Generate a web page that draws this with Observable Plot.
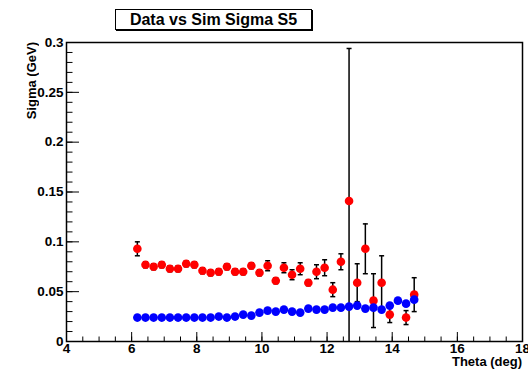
<!DOCTYPE html>
<html>
<head>
<meta charset="utf-8">
<script src="https://cdn.jsdelivr.net/npm/d3@7"></script>
<script src="https://cdn.jsdelivr.net/npm/@observablehq/plot@0.6"></script>
<style>
  html, body { margin: 0; padding: 0; background: #fff; }
  #wrap { position: relative; width: 528px; height: 370px; font-family: "Liberation Sans", Arial, Helvetica, sans-serif; font-weight: bold; color: #000; }
  #wrap svg { position: absolute; left: 0; top: 0; }
  #wrap svg text { font-family: "Liberation Sans", Arial, Helvetica, sans-serif !important; font-weight: 700 !important; font-size: 13.5px; }
  #title { position: absolute; left: 115px; top: 9px; width: 195px; height: 19px; border: 1px solid #000;
           box-shadow: 1px 1px 0 #000; background: #fff; font-size: 16px; line-height: 19px;
           text-align: center; z-index: 2; }
  #xlabel { position: absolute; right: 6px; top: 354px; font-size: 13px; line-height: 15px; white-space: nowrap; z-index: 2; }
  #ylabel { position: absolute; left: 24px; top: 42px; font-size: 13px; line-height: 15px; white-space: nowrap;
            writing-mode: vertical-rl; transform: rotate(180deg); z-index: 2; }
</style>
</head>
<body>
<div id="wrap">
  <div id="title">Data vs Sim Sigma S5</div>
  <div id="xlabel">Theta (deg)</div>
  <div id="ylabel">Sigma (GeV)</div>
</div>
<script>
// Theta bin centres (deg)
const theta = [6.175, 6.425, 6.675, 6.925, 7.175, 7.425, 7.675, 7.925, 8.175, 8.425, 8.675, 8.925,
  9.175, 9.425, 9.675, 9.925, 10.175, 10.425, 10.675, 10.925, 11.175, 11.425, 11.675, 11.925,
  12.175, 12.425, 12.675, 12.925, 13.175, 13.425, 13.675, 13.925, 14.175, 14.425, 14.675];
// Data sigma (GeV) and errors
const dataSigma = [0.093, 0.077, 0.075, 0.077, 0.073, 0.073, 0.078, 0.077, 0.071, 0.069, 0.070, 0.075,
  0.070, 0.070, 0.076, 0.069, 0.076, 0.061, 0.074, 0.067, 0.073, 0.059, 0.070, 0.074,
  0.052, 0.080, 0.141, 0.059, 0.093, 0.041, 0.059, 0.027, null, 0.024, 0.047];
const dataErr = [0.007, 0.003, 0.003, 0.003, 0.003, 0.003, 0.003, 0.003, 0.003, 0.003, 0.003, 0.003,
  0.003, 0.003, 0.003, 0.003, 0.005, 0.003, 0.005, 0.005, 0.006, 0.003, 0.007, 0.008,
  0.007, 0.008, 0.153, 0.019, 0.025, 0.027, 0.027, 0.008, null, 0.007, 0.017];
// Simulation sigma (GeV)
const simSigma = [0.024, 0.024, 0.024, 0.024, 0.024, 0.024, 0.024, 0.024, 0.024, 0.024, 0.025, 0.024,
  0.025, 0.027, 0.026, 0.029, 0.031, 0.030, 0.032, 0.030, 0.029, 0.033, 0.032, 0.032,
  0.034, 0.034, 0.035, 0.036, 0.033, 0.034, 0.032, 0.036, 0.041, 0.038, 0.042];
// Axis ticks
const xTicks = [4, 6, 8, 10, 12, 14, 16, 18];
const yTicks = [0, 0.05, 0.1, 0.15, 0.2, 0.25, 0.3];
const xMinor = d3.range(4, 18.001, 0.5);
const yMinor = d3.range(0, 0.3001, 0.01);

const dataRows = theta.map((x, i) => ({x, y: dataSigma[i], e: dataErr[i]})).filter(d => d.y != null);
const simRows = theta.map((x, i) => ({x, y: simSigma[i]}));

const W = 528, H = 370, mL = 66, mR = 6, mT = 42, mB = 29;
const fw = W - mL - mR, fh = H - mT - mB;
const cap = { draw(ctx) { ctx.moveTo(-2.5, 0); ctx.lineTo(2.5, 0); } };

const chart = Plot.plot({
  width: W, height: H,
  marginLeft: mL, marginRight: mR, marginTop: mT, marginBottom: mB,
  x: {domain: [4, 18]},
  y: {domain: [0, 0.3]},
  style: {fontFamily: "'Liberation Sans', Arial, Helvetica, sans-serif", fontSize: "13.5px", fontWeight: "bold", color: "#000", background: "transparent"},
  marks: [
    Plot.tickX(xMinor, {x: d => d, insetTop: fh - 4.5, stroke: "#000", strokeWidth: 1}),
    Plot.tickX(xTicks, {x: d => d, insetTop: fh - 9, stroke: "#000", strokeWidth: 1}),
    Plot.tickY(yMinor, {y: d => d, insetRight: fw - 6.5, stroke: "#000", strokeWidth: 1}),
    Plot.tickY(yTicks, {y: d => d, insetRight: fw - 13, stroke: "#000", strokeWidth: 1}),
    Plot.axisX({ticks: xTicks, tickSize: 0, tickPadding: 2, tickFormat: d => String(d), label: null, fill: "#000", fontWeight: "bold", fontSize: 13.5}),
    Plot.axisY({ticks: yTicks, tickSize: 0, tickPadding: 3, tickFormat: d => String(d), label: null, fill: "#000", fontWeight: "bold", fontSize: 13.5}),
    Plot.ruleX(dataRows, {x: "x", y1: d => d.y - d.e, y2: d => d.y + d.e, stroke: "#000", strokeWidth: 1.5, clip: true}),
    Plot.dot(dataRows, {x: "x", y: d => d.y + d.e, symbol: cap, stroke: "#000", strokeWidth: 1.5, fill: "none", clip: true}),
    Plot.dot(dataRows, {x: "x", y: d => d.y - d.e, symbol: cap, stroke: "#000", strokeWidth: 1.5, fill: "none", clip: true}),
    Plot.dot(dataRows, {x: "x", y: "y", r: 4.3, fill: "#ff0000", stroke: null}),
    Plot.dot(simRows, {x: "x", y: "y", r: 4.3, fill: "#0000ff", stroke: null}),
    Plot.frame({stroke: "#000", strokeWidth: 1.5})
  ]
});
document.getElementById("wrap").appendChild(chart);
</script>
</body>
</html>
